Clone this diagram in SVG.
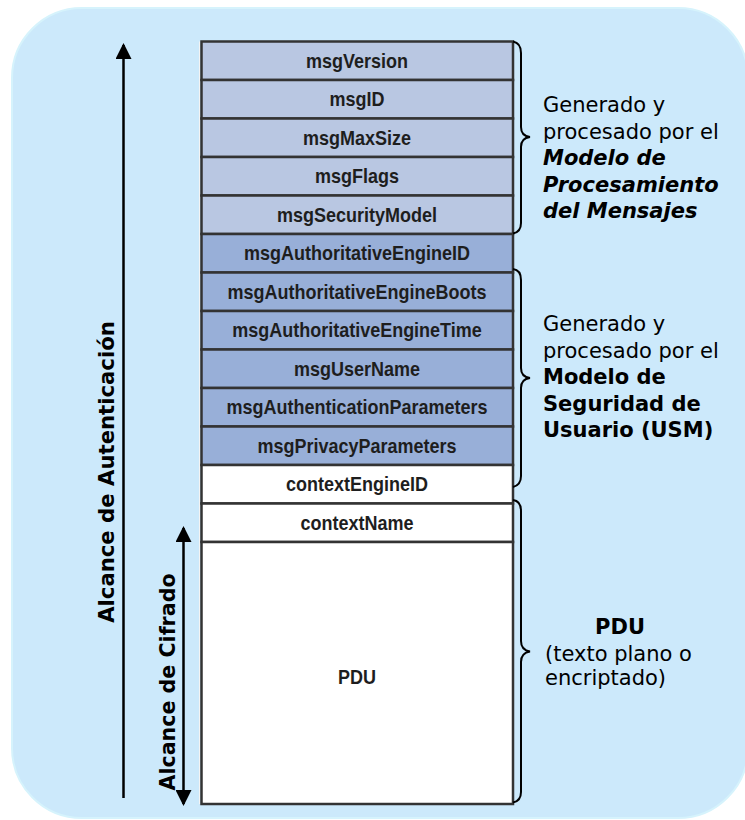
<svg xmlns="http://www.w3.org/2000/svg" width="745" height="820" viewBox="0 0 745 820">
<style>
.cell{stroke:#333;stroke-width:2.5}
.lt{fill:#b9c7e2}
.dk{fill:#98afd8}
.wh{fill:#ffffff}
.ct{font-family:"Liberation Sans",Arial,sans-serif;font-weight:bold;font-size:20px;fill:#1e1e1e;text-anchor:middle}
.rt{font-family:"DejaVu Sans",Verdana,sans-serif;font-size:21px;fill:#000}
.b{font-weight:bold}
.bi{font-weight:bold;font-style:italic}
.lbl{font-family:"DejaVu Sans",Verdana,sans-serif;font-weight:bold;fill:#000;text-anchor:middle}
.brace{fill:none;stroke:#000;stroke-width:2}
.arr{stroke:#000;stroke-width:2.5;fill:none}
</style>
<defs>
<marker id="ah" viewBox="0 0 16 16" refX="14" refY="8" markerWidth="16" markerHeight="16" markerUnits="userSpaceOnUse" orient="auto-start-reverse">
<path d="M0,0 L16,8 L0,16 z" fill="#000"/>
</marker>
</defs>
<rect x="12" y="8" width="736" height="810" rx="70" ry="70" fill="#cce9fb" stroke="#d6f3fc" stroke-width="2"/>

<g id="table">
<line x1="199.5" y1="41.5" x2="199.5" y2="804" stroke="#f4f4f4" stroke-width="1"/>
<g id="n-msgVersion"><rect class="cell lt" x="201.5" y="41.5" width="311.5" height="38.5"/><text class="ct" transform="scale(0.9,1)" x="396.67" y="68">msgVersion</text></g>
<g id="n-msgID"><rect class="cell lt" x="201.5" y="80" width="311.5" height="38.5"/><text class="ct" transform="scale(0.9,1)" x="396.67" y="106.5">msgID</text></g>
<g id="n-msgMaxSize"><rect class="cell lt" x="201.5" y="118.5" width="311.5" height="38.5"/><text class="ct" transform="scale(0.9,1)" x="396.67" y="145">msgMaxSize</text></g>
<g id="n-msgFlags"><rect class="cell lt" x="201.5" y="157" width="311.5" height="38.5"/><text class="ct" transform="scale(0.9,1)" x="396.67" y="183.5">msgFlags</text></g>
<g id="n-msgSecurityModel"><rect class="cell lt" x="201.5" y="195.5" width="311.5" height="38.5"/><text class="ct" transform="scale(0.9,1)" x="396.67" y="222">msgSecurityModel</text></g>
<g id="n-msgAuthoritativeEngineID"><rect class="cell dk" x="201.5" y="234" width="311.5" height="38.5"/><text class="ct" transform="scale(0.9,1)" x="396.67" y="260.5">msgAuthoritativeEngineID</text></g>
<g id="n-msgAuthoritativeEngineBoots"><rect class="cell dk" x="201.5" y="272.5" width="311.5" height="38.5"/><text class="ct" transform="scale(0.9,1)" x="396.67" y="299">msgAuthoritativeEngineBoots</text></g>
<g id="n-msgAuthoritativeEngineTime"><rect class="cell dk" x="201.5" y="311" width="311.5" height="38.5"/><text class="ct" transform="scale(0.9,1)" x="396.67" y="337.5">msgAuthoritativeEngineTime</text></g>
<g id="n-msgUserName"><rect class="cell dk" x="201.5" y="349.5" width="311.5" height="38.5"/><text class="ct" transform="scale(0.9,1)" x="396.67" y="376">msgUserName</text></g>
<g id="n-msgAuthenticationParameters"><rect class="cell dk" x="201.5" y="388" width="311.5" height="38.5"/><text class="ct" transform="scale(0.9,1)" x="396.67" y="414.5">msgAuthenticationParameters</text></g>
<g id="n-msgPrivacyParameters"><rect class="cell dk" x="201.5" y="426.5" width="311.5" height="38.5"/><text class="ct" transform="scale(0.9,1)" x="396.67" y="453">msgPrivacyParameters</text></g>
<g id="n-contextEngineID"><rect class="cell wh" x="201.5" y="465" width="311.5" height="38.5"/><text class="ct" transform="scale(0.9,1)" x="396.67" y="491.5">contextEngineID</text></g>
<g id="n-contextName"><rect class="cell wh" x="201.5" y="503.5" width="311.5" height="38.5"/><text class="ct" transform="scale(0.9,1)" x="396.67" y="530">contextName</text></g>
<g id="n-PDU"><rect class="cell wh" x="201.5" y="542" width="311.5" height="262"/><text class="ct" transform="scale(0.9,1)" x="396.67" y="684">PDU</text></g>
</g>

<g id="connectors">
<path class="brace" d="M513,41.5 Q521,43 521,53 L521,127 Q521,136 530,137 Q521,138 521,147 L521,223 Q521,232 513,233.5"/>
<path class="brace" d="M513,269 Q521,270 521,280 L521,368 Q521,377 530,378 Q521,379 521,388 L521,476 Q521,485 513,487"/>
<path class="brace" d="M513,500 Q521,501 521,511 L521,641 Q521,650 530,651.5 Q521,653 521,662 L521,792 Q521,801 513,802.5"/>
<line class="arr" x1="123.5" y1="798" x2="123.5" y2="45" marker-end="url(#ah)"/>
<line class="arr" x1="183.5" y1="528" x2="183.5" y2="804" marker-start="url(#ah)" marker-end="url(#ah)"/>
</g>

<g id="labels">
<text class="lbl" font-size="21.2" transform="translate(113.5,472) rotate(-90)">Alcance de Autenticación</text>
<text class="lbl" font-size="20.6" transform="translate(175,682) rotate(-90)">Alcance de Cifrado</text>
<text class="rt" x="543" y="112">Generado y</text>
<text class="rt" x="543" y="138.5">procesado por el</text>
<text class="rt bi" x="543" y="165">Modelo de</text>
<text class="rt bi" x="543" y="191.5">Procesamiento</text>
<text class="rt bi" x="543" y="218">del Mensajes</text>
<text class="rt" x="543" y="331">Generado y</text>
<text class="rt" x="543" y="357.5">procesado por el</text>
<text class="rt b" x="543" y="384">Modelo de</text>
<text class="rt b" x="543" y="410.5">Seguridad de</text>
<text class="rt b" x="543" y="437">Usuario (USM)</text>
<text class="rt b" x="620" y="634" text-anchor="middle">PDU</text>
<text class="rt" x="545" y="661">(texto plano o</text>
<text class="rt" x="545" y="685">encriptado)</text>
</g>
</svg>
